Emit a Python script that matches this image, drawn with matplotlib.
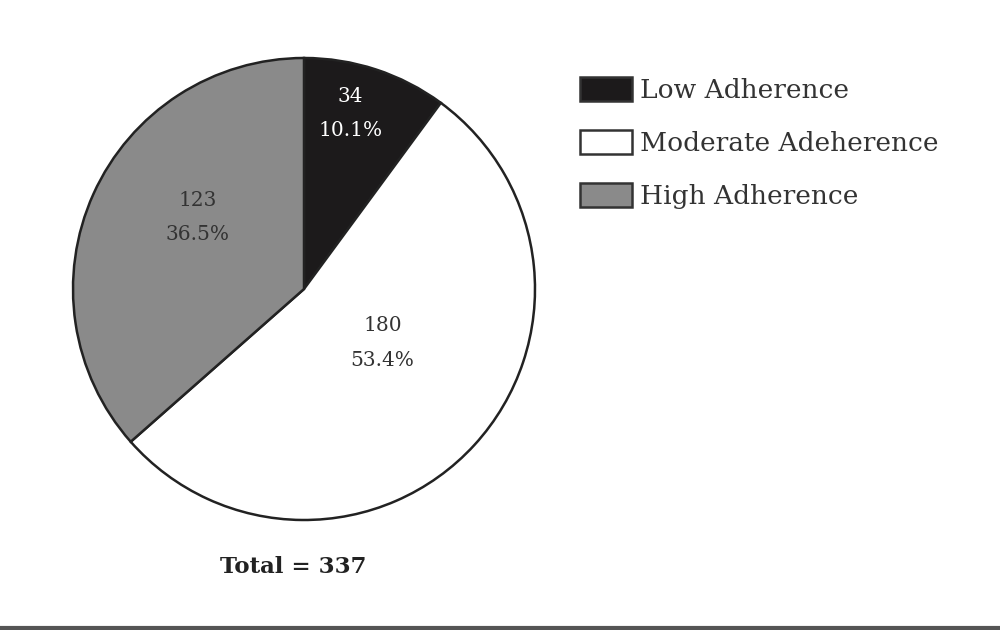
import matplotlib.pyplot as plt
from matplotlib.patches import Patch
from matplotlib.lines import Line2D

# Data
categories = ['Low Adherence', 'Moderate Adeherence', 'High Adherence']
counts = [34, 180, 123]
percents = ['10.1%', '53.4%', '36.5%']
total = 337
colors = ['#1c1a1b', '#ffffff', '#8a8a8a']
text_colors = ['#ffffff', '#333333', '#333333']

plt.rcParams['font.family'] = ['DejaVu Serif']

fig = plt.figure(figsize=(10, 6.3), dpi=100)

# Pie axes placed so the circle matches the reference
ax = fig.add_axes([0.073, 110 / 630, 0.462, 462 / 630])
wedges, _ = ax.pie(counts, colors=colors, startangle=90, counterclock=False,
                   wedgeprops=dict(edgecolor='#222222', linewidth=1.8))
ax.set_xlim(-1, 1)
ax.set_ylim(-1, 1)
ax.set_aspect('equal')
ax.axis('off')

# Label positions inside the slices (axes data units)
label_pos = [(0.20, 0.76), (0.34, -0.235), (-0.46, 0.31)]
for (x, y), n, p, c in zip(label_pos, counts, percents, text_colors):
    ax.text(x, y, f'{n}\n{p}', ha='center', va='center', fontsize=14.5,
            color=c, linespacing=2.05)

# Legend
handles = [Patch(facecolor=col, edgecolor='#333333', linewidth=1.8) for col in colors]
leg = fig.legend(handles, categories, loc='upper left',
                 bbox_to_anchor=(0.580, 1 - 77 / 630),
                 frameon=False, fontsize=19, handlelength=1.97, handleheight=1.0,
                 handletextpad=0.3, labelspacing=1.03, borderpad=0,
                 borderaxespad=0, labelcolor='#333333')

fig.text(0.293, 1 - 567 / 630, f'Total = {total}', ha='center', va='center',
         fontsize=16.5, fontweight='bold', color='#222222')

# Bottom rule
fig.add_artist(Line2D([0, 1], [2 / 630, 2 / 630], color='#555555', linewidth=3,
                      transform=fig.transFigure))

fig.savefig('out.png', dpi=100, facecolor='white')
